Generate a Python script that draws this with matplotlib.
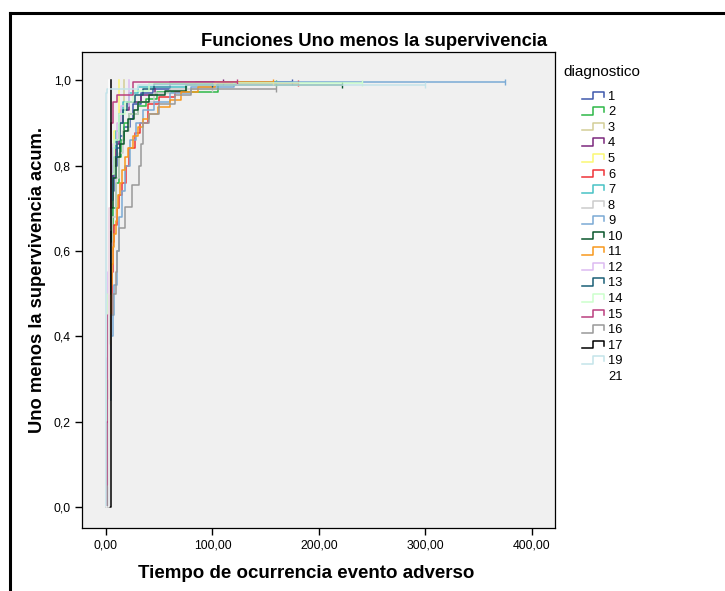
import matplotlib
matplotlib.use("Agg")
import matplotlib.pyplot as plt
from matplotlib.lines import Line2D
from matplotlib.ticker import FuncFormatter

plt.rcParams['font.family'] = ['Liberation Sans', 'DejaVu Sans']

# grupos de diagnostico y colores (paleta SPSS)
grupos = ['1', '2', '3', '4', '5', '6', '7', '8', '9', '10', '11', '12',
          '13', '14', '15', '16', '17', '19', '21']
colores = ['#3E58AC', '#2EB848', '#D3CE97', '#7C287D', '#FBF873', '#EF3338',
           '#48C2C5', '#CCCCCC', '#7AAAD5', '#0A562C', '#F8981D', '#DDBAF1',
           '#1A5F76', '#CCFFCC', '#BB3F7F', '#999999', '#000000', '#C4E4EA',
           '#FFFFFF']

# tiempos de evento y 1 - S(t)
t1 = [2, 3, 4, 5, 6, 8, 10, 13, 17, 23, 25, 33, 44, 60, 85]
v1 = [0.2, 0.4, 0.58, 0.68, 0.74, 0.8, 0.84, 0.87, 0.89, 0.91, 0.945, 0.97, 0.98, 0.99, 0.996]
t2 = [3, 4, 5, 7, 9, 12, 14, 17, 22, 30, 38, 48, 105]
v2 = [0.35, 0.5, 0.6, 0.7, 0.76, 0.82, 0.86, 0.9, 0.92, 0.94, 0.955, 0.972, 0.993]
t3 = [1, 2, 3, 4, 6, 9, 13, 17]
v3 = [0.3, 0.5, 0.62, 0.7, 0.8, 0.88, 0.93, 1.0]
t4 = [1, 2, 3, 4, 5, 7, 9, 12, 16, 22, 33, 46, 60]
v4 = [0.2, 0.4, 0.55, 0.65, 0.72, 0.8, 0.85, 0.9, 0.93, 0.95, 0.965, 0.985, 0.995]
t5 = [1, 2, 3, 5, 8, 12]
v5 = [0.3, 0.5, 0.65, 0.78, 0.88, 1.0]
t6 = [3, 5, 6, 7, 8, 10, 12, 15, 19, 22, 27, 32, 39, 50, 65, 75]
v6 = [0.3, 0.45, 0.55, 0.62, 0.66, 0.7, 0.73, 0.76, 0.8, 0.84, 0.876, 0.9, 0.945, 0.96, 0.972, 0.993]
t7 = [1, 2, 3, 4, 5, 7, 9, 12, 16, 22, 30]
v7 = [0.25, 0.45, 0.6, 0.7, 0.78, 0.84, 0.88, 0.92, 0.95, 0.97, 0.985]
t8 = [2, 4, 6, 9, 12, 16, 22, 30, 45, 60]
v8 = [0.3, 0.55, 0.68, 0.77, 0.83, 0.88, 0.92, 0.95, 0.97, 0.98]
t9 = [3, 5, 7, 8, 10, 12, 15, 18, 23, 28, 35, 45, 60, 80, 120]
v9 = [0.25, 0.4, 0.45, 0.52, 0.6, 0.68, 0.74, 0.8, 0.86, 0.9, 0.93, 0.95, 0.97, 0.985, 0.995]
t10 = [2, 3, 4, 5, 7, 9, 13, 17, 21, 26, 30, 40, 55, 75]
v10 = [0.3, 0.5, 0.62, 0.7, 0.77, 0.82, 0.85, 0.88, 0.91, 0.93, 0.95, 0.965, 0.975, 0.988]
t11 = [2, 3, 4, 5, 6, 7, 8, 9, 10, 11, 13, 15, 18, 21, 25, 30, 35, 40, 49, 60, 70, 86, 102]
v11 = [0.2, 0.38, 0.45, 0.52, 0.57, 0.61, 0.64, 0.67, 0.70, 0.73, 0.76, 0.79, 0.82, 0.84,
       0.87, 0.89, 0.91, 0.92, 0.937, 0.953, 0.972, 0.984, 0.995]
t12 = [1, 2, 3, 5, 7, 10, 14, 22]
v12 = [0.35, 0.55, 0.68, 0.78, 0.85, 0.9, 0.94, 1.0]
t13 = [2, 3, 4, 5, 6, 8, 10, 13, 16, 20, 27, 35, 45]
v13 = [0.3, 0.5, 0.65, 0.72, 0.78, 0.82, 0.86, 0.9, 0.93, 0.95, 0.965, 0.98, 0.99]
t14 = [1, 2, 3, 5, 8, 12, 18, 25, 40]
v14 = [0.3, 0.5, 0.65, 0.78, 0.86, 0.92, 0.95, 0.975, 0.993]
t15 = [1, 2, 3, 5, 7, 10, 25]
v15 = [0.2, 0.45, 0.7, 0.9, 0.95, 0.965, 0.996]
t16 = [2, 3, 4, 5, 7, 9, 10, 12, 18, 24, 31, 33, 35, 40, 50, 65, 80]
v16 = [0.05, 0.25, 0.38, 0.45, 0.5, 0.55, 0.6, 0.653, 0.703, 0.754, 0.8, 0.85, 0.9, 0.92,
       0.945, 0.965, 0.98]
t17 = [5]
v17 = [1.0]
t19 = [0, 1, 30]
v19 = [0.97, 0.98, 0.988]
t21 = [3]
v21 = [1.0]

tiempos = [t1, t2, t3, t4, t5, t6, t7, t8, t9, t10, t11, t12, t13, t14, t15, t16, t17, t19, t21]
valores = [v1, v2, v3, v4, v5, v6, v7, v8, v9, v10, v11, v12, v13, v14, v15, v16, v17, v19, v21]
# ultimo tiempo de seguimiento (censurado)
fin = [175, 160, 17, 110, 12, 180, 75, 100, 375, 222, 157, 22, 100, 240, 123, 160, 5, 300, 3]

W, H = 725, 591
fig = plt.figure(figsize=(W / 100, H / 100), dpi=100)
ax = fig.add_axes([82 / W, 1 - 528 / H, (555 - 82) / W, (528 - 52) / H])
ax.set_facecolor('#F0F0F0')

for t, v, f, c in zip(tiempos, valores, fin, colores):
    xs = [0] + t + [f]
    ys = [0] + v + [v[-1]]
    ax.plot(xs, ys, drawstyle='steps-post', color=c, lw=1.1)
    if f > t[-1]:
        ax.plot([f], [v[-1]], marker='|', ms=5, mew=1.0, color=c, ls='none')

ax.set_xlim(-22.5, 421.6)
ax.set_ylim(-0.049, 1.066)
ax.set_xticks([0, 100, 200, 300, 400])
ax.set_yticks([0, 0.2, 0.4, 0.6, 0.8, 1.0])
ax.xaxis.set_major_formatter(FuncFormatter(lambda x, p: f'{x:.2f}'.replace('.', ',')))
ax.yaxis.set_major_formatter(FuncFormatter(lambda y, p: f'{y:.1f}'.replace('.', ',')))
ax.tick_params(direction='out', length=5, width=1, labelsize=8.8, colors='black', pad=3)
for s in ax.spines.values():
    s.set_color('black')
    s.set_linewidth(0.9)

fig.text(374 / W, 1 - 42 / H, 'Funciones Uno menos la supervivencia', ha='center',
         va='center', fontsize=13.3, fontweight='bold')
fig.text(306 / W, 1 - 574 / H, 'Tiempo de ocurrencia evento adverso', ha='center',
         va='center', fontsize=13.5, fontweight='bold')
fig.text(38 / W, 1 - 280 / H, 'Uno menos la supervivencia acum.', ha='center',
         va='center', rotation=90, fontsize=13.2, fontweight='bold')

# leyenda manual con simbolo escalonado
fig.text(563 / W, 1 - 72 / H, 'diagnostico', ha='left', va='center', fontsize=11)
y0, dy = 96.7, 15.56
for i, (g, c) in enumerate(zip(grupos, colores)):
    yc = y0 + i * dy
    xs = [582, 593, 593, 604, 604]
    ys = [yc + 2.6, yc + 2.6, yc - 5, yc - 5, yc]
    fig.add_artist(Line2D([x / W for x in xs], [1 - y / H for y in ys], color=c, lw=1.1))
    fig.text(608 / W, 1 - yc / H, g, ha='left', va='center', fontsize=9.3)

# marco exterior
fig.add_artist(Line2D([10 / W, 1.0], [1 - 13 / H, 1 - 13 / H], color='black', lw=2.2))
fig.add_artist(Line2D([10 / W, 10 / W], [1 - 13 / H, 0], color='black', lw=2.2))

fig.savefig('out.png', dpi=100)
